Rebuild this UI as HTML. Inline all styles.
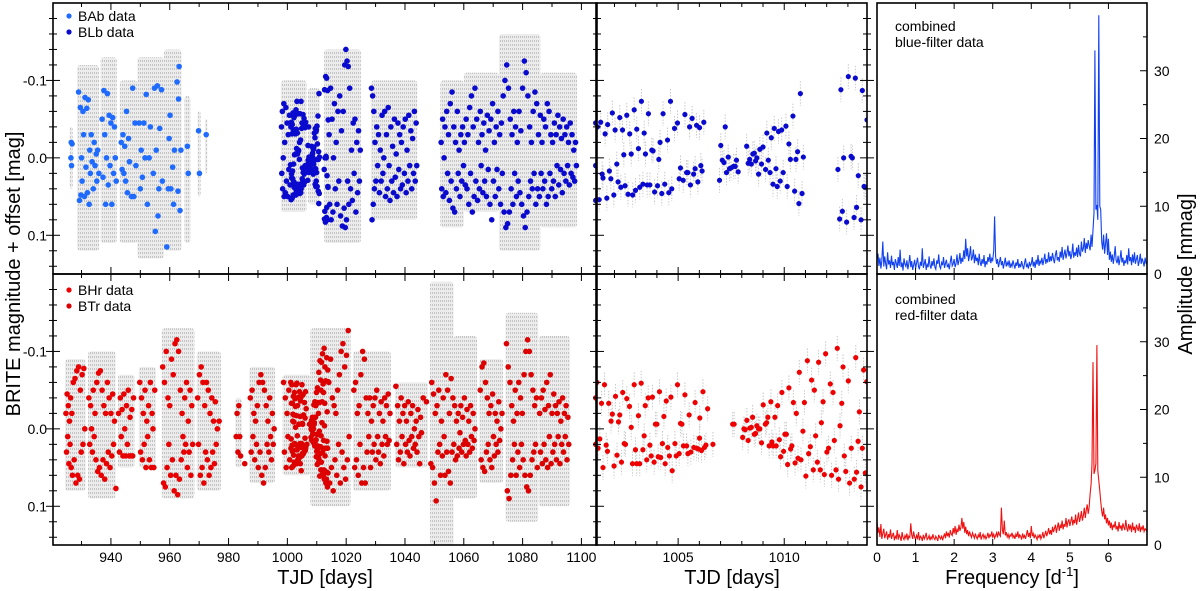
<!DOCTYPE html>
<html><head><meta charset="utf-8">
<style>
html,body{margin:0;padding:0;background:#fff;}
svg{display:block;font-family:"Liberation Sans",Arial,sans-serif;}
</style></head>
<body>
<svg id="fig" width="1200" height="591" viewBox="0 0 1200 591" xmlns="http://www.w3.org/2000/svg">
<defs>
<clipPath id="cL"><rect x="53" y="3" width="544" height="542"/></clipPath>
<clipPath id="cM"><rect x="596" y="3" width="271" height="542"/></clipPath>
<clipPath id="cR"><rect x="877" y="3" width="270" height="542"/></clipPath>
<pattern id="rawPat" width="2" height="4" patternUnits="userSpaceOnUse">
<rect x="0" y="0" width="2" height="4" fill="#ececec"/>
<rect x="0" y="0" width="1" height="2" fill="#c4c4c4"/>
</pattern>
</defs>
<g id="layer-gray"></g>
<g id="layer-pts"></g>
<g id="layer-spec"></g>
<g id="layer-axes"></g>
<g>
<circle cx="69" cy="16" r="2.6" fill="#1f6bff"/>
<text x="78" y="21" font-size="14">BAb data</text>
<circle cx="69" cy="32" r="2.6" fill="#0a0acf"/>
<text x="78" y="37" font-size="14">BLb data</text>
</g>
<g>
<circle cx="69" cy="290" r="2.6" fill="#f00000"/>
<text x="78" y="295" font-size="14">BHr data</text>
<circle cx="69" cy="306" r="2.6" fill="#dd0000"/>
<text x="78" y="311" font-size="14">BTr data</text>
</g>
<text x="895" y="31" font-size="14"><tspan x="895">combined</tspan><tspan x="895" dy="16">blue-filter data</tspan></text>
<text x="895" y="304" font-size="14"><tspan x="895">combined</tspan><tspan x="895" dy="16">red-filter data</tspan></text>
<text x="0" y="0" font-size="20" text-anchor="middle" transform="translate(20,274) rotate(-90)">BRITE magnitude + offset [mag]</text>
<text x="0" y="0" font-size="20" text-anchor="middle" transform="translate(1192,274) rotate(-90)">Amplitude [mmag]</text>
<text x="325" y="584" font-size="20" text-anchor="middle">TJD [days]</text>
<text x="732" y="584" font-size="20" text-anchor="middle">TJD [days]</text>
<text x="1012" y="584" font-size="20" text-anchor="middle">Frequency [d<tspan dy="-8" font-size="13">-1</tspan><tspan dy="8">]</tspan></text>
</svg>
<script>
// ---------- DATA ----------
const blueZoomPts = [[1001.04,0.009],[1001.20,-0.040],[1001.35,-0.046],[1001.56,-0.031],[1001.68,-0.043],[1001.90,-0.058],[1002.03,-0.036],[1002.25,-0.052],[1002.38,-0.036],[1002.58,-0.055],[1002.72,-0.031],[1002.93,-0.062],[1003.05,-0.037],[1003.27,-0.073],[1003.40,-0.032],[1003.60,-0.057],[1001.28,0.054],[1001.46,0.026],[1001.42,0.021],[1001.64,0.052],[1001.76,0.017],[1001.83,0.027],[1001.97,0.048],[1002.11,0.008],[1002.17,0.031],[1002.30,0.038],[1002.50,0.036],[1002.44,-0.004],[1002.64,0.047],[1002.79,-0.005],[1002.86,0.048],[1002.99,0.042],[1003.13,-0.012],[1003.19,0.038],[1003.34,0.034],[1003.46,-0.005],[1003.54,0.035],[1003.67,0.035],[1003.76,-0.010],[1003.82,-0.009],[1003.89,0.044],[1004.03,0.036],[1004.09,0.002],[1004.15,-0.020],[1004.23,0.046],[1004.29,-0.057],[1004.37,0.034],[1004.50,-0.023],[1004.56,0.045],[1004.64,-0.073],[1004.70,0.040],[1004.83,-0.038],[1004.97,-0.045],[1005.05,0.027],[1005.11,0.013],[1005.24,0.029],[1005.32,-0.056],[1005.40,0.019],[1005.46,0.019],[1005.54,-0.040],[1005.58,0.035],[1005.66,-0.051],[1005.73,0.021],[1005.80,0.014],[1005.87,-0.042],[1005.93,0.031],[1006.01,-0.039],[1006.07,0.010],[1006.13,0.017],[1006.21,-0.046],
[1006.95,0.029],[1007.01,-0.016],[1007.08,0.003],[1007.16,0.006],[1007.22,-0.040],[1007.28,0.019],[1007.36,-0.001],[1007.42,0.014],[1007.49,0.013],[1007.61,0.011],[1007.69,0.011],[1007.75,0.003],[1007.83,0.018],[1008.23,-0.015],[1008.30,0.007],[1008.37,0.002],[1008.45,0.008],[1008.52,-0.005],[1008.59,-0.006],[1008.65,0.004],[1008.71,0.000],[1008.79,0.021],[1008.85,-0.011],[1008.93,0.008],[1009.00,-0.014],[1009.12,0.015],[1009.18,-0.032],[1009.25,0.003],[1009.33,0.019],[1009.39,-0.026],[1009.47,0.034],[1009.53,-0.038],[1009.61,0.014],[1009.67,0.037],[1009.73,-0.034],[1009.81,0.030],[1009.88,-0.036],[1009.95,0.019],[1010.08,-0.041],[1010.14,0.037],[1010.22,-0.018],[1010.29,0.002],[1010.41,-0.054],[1010.49,0.043],[1010.55,0.002],[1010.63,-0.008],[1010.69,0.059],[1010.76,-0.083],[1010.84,0.046],[1010.90,-0.001],
[1012.53,0.015],[1012.61,0.079],[1012.67,-0.088],[1012.74,0.069],[1012.80,0.000],[1012.94,0.083],[1013.02,-0.105],[1013.15,-0.002],[1013.21,0.000],[1013.29,0.077],[1013.35,-0.103],[1013.41,0.064],[1013.49,0.023],[1013.62,0.080],[1013.68,-0.087],[1013.76,0.037],[1013.82,0.038],[1013.90,-0.049]];

const redZoomPts = [[1001.17,-0.060],[1001.23,0.025],[1001.31,0.013],[1001.39,-0.033],[1001.46,0.050],[1001.53,-0.057],[1001.61,0.021],[1001.67,0.029],[1001.73,-0.033],[1001.84,-0.010],[1001.90,-0.019],[1001.98,0.048],[1002.05,-0.042],[1002.12,0.034],[1002.19,-0.009],[1002.25,-0.018],[1002.33,0.043],[1002.39,-0.047],[1002.46,0.019],[1002.52,0.020],[1002.58,-0.039],[1002.71,-0.029],[1002.79,-0.002],[1002.85,0.045],[1002.93,-0.057],[1002.99,0.027],[1003.05,0.045],[1003.13,-0.017],[1003.19,0.045],[1003.26,-0.059],[1003.34,0.027],[1003.40,0.009],[1003.45,-0.030],[1003.52,0.040],[1003.59,-0.040],[1003.67,0.021],[1003.73,0.035],[1003.79,-0.041],[1003.87,0.043],[1003.93,-0.006],[1004.00,-0.006],[1004.06,0.036],[1004.12,-0.048],[1004.18,0.037],[1004.26,0.019],[1004.33,-0.016],[1004.39,0.045],[1004.44,-0.036],[1004.51,0.024],[1004.59,0.035],[1004.66,-0.041],[1004.72,0.054],[1004.85,0.019],[1004.91,0.035],[1004.97,-0.057],[1005.05,0.032],[1005.11,-0.007],[1005.18,-0.006],[1005.25,0.022],[1005.32,-0.044],[1005.40,0.022],[1005.46,0.032],[1005.52,-0.018],[1005.60,0.030],[1005.74,0.024],[1005.80,-0.034],[1005.87,0.025],[1005.96,0.026],[1006.01,0.012],[1006.02,-0.014],[1006.10,0.028],[1006.17,-0.048],[1006.24,0.024],[1006.31,0.021],[1006.39,-0.026],[1006.64,0.020],
[1007.57,-0.006],[1007.64,-0.006],[1008.04,0.011],[1008.10,0.000],[1008.16,0.001],[1008.24,-0.011],[1008.30,0.015],[1008.38,-0.001],[1008.45,-0.002],[1008.51,-0.015],[1008.59,0.007],[1008.65,0.006],[1008.71,-0.004],[1008.79,0.000],[1008.85,0.000],[1008.93,0.018],[1009.01,-0.031],[1009.11,-0.006],[1009.17,-0.008],[1009.23,-0.015],[1009.29,0.022],[1009.37,-0.035],[1009.42,0.017],[1009.48,0.022],[1009.56,-0.015],[1009.62,0.022],[1009.69,-0.030],[1009.77,0.014],[1009.83,0.036],[1009.89,-0.047],[1009.97,0.029],[1010.03,0.007],[1010.10,0.007],[1010.16,0.046],[1010.22,-0.053],[1010.30,0.026],[1010.36,0.022],[1010.43,-0.034],[1010.51,0.044],[1010.57,-0.020],[1010.65,0.038],[1010.71,-0.073],[1010.79,0.040],[1010.88,0.003],[1010.95,-0.034],[1011.02,0.061],[1011.09,-0.088],[1011.15,0.032],[1011.23,0.023],[1011.29,-0.063],[1011.37,0.053],[1011.42,-0.050],[1011.48,0.009],[1011.56,0.043],[1011.62,-0.086],[1011.70,0.053],[1011.75,-0.008],[1011.83,-0.035],[1011.89,0.059],[1011.95,-0.097],[1012.01,0.030],[1012.09,0.025],[1012.17,-0.058],[1012.23,0.060],[1012.30,-0.047],[1012.36,0.015],[1012.44,0.053],[1012.50,-0.104],[1012.56,0.065],[1012.63,-0.004],[1012.71,-0.033],[1012.77,-0.080],[1012.83,0.035],[1012.90,0.055],[1013.02,-0.062],[1013.08,0.070],[1013.16,0.025],[1013.30,0.065],[1013.37,-0.092],[1013.41,0.056],[1013.48,0.016],[1013.54,-0.022],[1013.62,0.075],[1013.68,0.025],[1013.74,-0.076],[1013.82,0.057],[1013.89,-0.061]];

const babPts = [[926.4,0.000],[926.5,-0.020],[926.6,0.010],[926.8,-0.018],[929.0,-0.085],[929.3,0.055],[929.6,-0.065],[929.8,0.048],[930.0,0.000],[930.2,0.030],[930.5,-0.060],[930.7,-0.030],[931.0,0.050],[931.2,-0.078],[931.5,0.012],[931.8,-0.064],[932.0,0.045],[932.3,-0.075],[932.6,0.060],[932.8,-0.010],[933.0,0.020],[933.3,-0.030],[933.6,0.005],[934.0,0.040],[934.3,-0.020],[934.6,0.010],[935.0,-0.005],[935.2,0.030],[935.5,-0.010],[935.9,0.020],[937.0,-0.050],[937.3,0.025],[937.6,-0.087],[937.9,-0.030],[938.2,0.060],[938.5,0.000],[938.8,-0.083],[939.1,0.035],[939.4,-0.055],[939.7,0.010],[940.0,-0.045],[940.3,0.060],[940.6,-0.052],[940.9,0.020],[941.2,-0.040],[941.5,0.000],[941.8,0.030],[943.5,-0.020],[943.8,0.015],[944.1,-0.030],[944.4,0.020],[944.7,-0.015],[945.0,0.030],[945.3,-0.060],[945.6,0.045],[946.0,-0.025],[946.3,0.005],[947.0,0.050],[947.4,-0.090],[947.8,0.050],[948.2,-0.045],[948.5,0.010],[949.6,-0.045],[950.0,0.040],[950.3,-0.010],[950.7,0.025],[951.2,-0.045],[951.6,0.000],[952.0,-0.082],[952.4,0.060],[953.0,0.000],[953.4,-0.040],[954.4,0.020],[954.8,-0.090],[955.1,0.095],[955.4,-0.010],[955.8,-0.093],[956.0,0.075],[956.3,0.040],[956.6,-0.038],[959.0,0.115],[957.2,-0.088],[957.5,0.030],[959.5,0.040],[959.8,-0.025],[960.1,-0.055],[960.4,0.040],[963.2,-0.118],[961.0,0.012],[961.3,0.060],[961.6,-0.010],[962.5,-0.098],[962.8,0.043],[963.0,-0.076],[963.5,0.068],[963.8,-0.010],[966.0,-0.015],[966.3,0.020],[969.8,-0.035],[970.1,0.020],[972.4,-0.030]];

const blbPts = [[998.0,-0.040],[998.1,0.020],[998.3,-0.060],[998.4,0.040],[998.6,0.000],[998.8,-0.070],[998.9,0.050],[999.1,-0.020],[999.3,0.045],[999.5,-0.065],[999.7,0.030],[999.9,-0.045],[1000.1,0.050],[1000.3,-0.030],[1000.5,0.015],[1000.7,-0.055],[1000.9,0.035],
[1014.2,-0.030],[1014.4,0.060],[1014.7,-0.090],[1014.9,0.080],[1015.2,-0.050],[1015.5,0.070],[1015.7,0.000],[1016.0,-0.070],[1016.3,0.040],[1016.6,-0.020],[1016.9,0.060],[1017.2,-0.060],[1017.5,0.030],[1017.8,-0.080],[1018.1,0.075],[1018.4,-0.035],[1018.7,0.088],[1019.0,-0.060],[1019.3,0.065],[1019.5,-0.120],[1019.7,0.090],[1019.9,-0.140],[1020.1,0.080],[1020.3,-0.125],[1020.5,0.030],[1020.7,-0.118],[1020.9,0.060],[1021.2,-0.090],[1021.5,0.040],[1021.8,-0.010],[1022.1,0.055],[1022.4,-0.045],[1022.7,0.020],[1023.0,-0.050],[1023.3,0.070],[1023.6,-0.020],[1023.9,0.045],[1024.2,-0.035],[1024.5,0.030],[1024.8,-0.010],
[1028.6,-0.090],[1028.8,0.080],[1029.0,-0.080],[1029.2,0.060],[1029.4,-0.060],[1029.6,0.040],[1029.8,-0.020],[1030.1,0.030],[1030.4,-0.040],[1030.7,0.010],[1031.0,-0.030],[1031.3,0.045],[1031.6,-0.010],[1031.9,0.030],[1032.2,-0.055],[1032.5,0.020],[1032.8,0.000],[1033.1,-0.060],[1033.4,0.050],[1033.7,-0.030],[1034.0,0.040],[1034.3,-0.065],[1034.6,0.010],[1034.9,0.055],[1035.2,-0.040],[1035.5,0.030],[1035.8,-0.015],[1036.1,0.045],[1036.4,-0.050],[1036.7,0.025],[1037.0,-0.005],[1037.3,0.050],[1037.6,-0.045],[1037.9,0.015],[1038.2,-0.030],[1038.5,0.040],[1038.8,-0.020],[1039.1,0.035],[1039.4,-0.040],[1039.8,0.020],[1040.1,-0.050],[1040.4,0.045],[1040.7,-0.010],[1041.0,0.030],[1041.3,-0.055],[1041.6,0.010],[1042.0,-0.035],[1042.3,0.040],[1042.6,-0.025],[1042.9,0.020],[1043.2,-0.060],[1043.5,0.030],[1043.8,-0.045],[1044.0,0.010],
[1052.3,-0.020],[1052.5,0.040],[1052.8,-0.050],[1053.0,0.050],[1053.3,0.000],[1053.6,-0.040],[1053.9,0.045],[1054.2,-0.060],[1054.5,0.020],[1054.8,-0.030],[1055.1,0.055],[1055.4,-0.070],[1055.7,0.030],[1056.0,-0.085],[1056.3,0.065],[1056.6,-0.040],[1056.9,0.070],[1057.2,-0.020],[1057.5,0.040],[1057.8,-0.060],[1058.1,0.020],[1058.4,-0.010],[1058.7,0.050],[1059.0,-0.030],[1059.3,0.030],[1059.6,-0.040],[1059.9,0.010],[1060.2,-0.020],[1060.5,0.035],[1060.8,-0.050],[1061.1,0.040],[1061.4,-0.030],[1061.7,0.060],[1062.0,-0.065],[1062.3,0.020],[1062.6,-0.080],[1062.9,0.070],[1063.2,-0.040],[1063.5,0.050],[1063.8,-0.090],[1064.1,0.030],[1064.4,-0.050],[1064.7,0.055],[1065.0,-0.020],[1065.3,0.040],[1065.6,-0.060],[1065.9,0.010],[1066.2,-0.030],[1066.5,0.045],[1066.8,-0.045],[1067.1,0.030],[1067.4,-0.010],[1067.7,0.050],[1068.0,-0.055],[1068.3,0.015],[1068.6,-0.035],[1068.9,0.060],[1069.2,-0.050],[1069.5,0.080],[1069.8,-0.070],[1070.1,0.030],[1070.4,-0.020],[1070.7,0.050],[1071.0,-0.040],[1071.3,0.015],[1071.6,-0.060],[1071.9,0.040],[1072.2,-0.030],[1072.5,0.060],[1072.8,-0.045],[1073.1,0.020],[1073.4,-0.080],[1073.7,0.070],[1074.0,-0.100],[1074.3,0.090],[1074.6,-0.120],[1074.9,0.085],[1075.2,-0.090],[1075.5,0.070],[1075.8,-0.050],[1076.1,0.040],[1076.4,-0.030],[1076.7,0.060],[1077.0,-0.060],[1077.3,0.020],[1077.6,-0.040],[1077.9,0.050],[1078.2,-0.020],[1078.5,0.030],[1078.8,-0.060],[1079.1,0.045],[1079.4,-0.035],[1079.7,0.060],[1080.0,-0.090],[1080.3,0.075],[1080.6,-0.125],[1080.9,0.090],[1081.2,-0.110],[1081.5,0.070],[1081.8,-0.080],[1082.1,0.050],[1082.4,-0.040],[1082.7,0.030],[1083.0,-0.020],[1083.3,0.040],[1083.6,-0.060],[1083.9,0.020],[1084.2,-0.085],[1084.5,0.060],[1084.8,-0.070],[1085.1,0.040],[1085.4,-0.030],[1085.7,0.050],[1086.0,-0.055],[1086.3,0.020],[1086.6,-0.020],[1086.9,0.040],[1087.2,-0.050],[1087.5,0.030],[1087.8,-0.040],[1088.1,0.060],[1088.4,-0.070],[1088.7,0.050],[1089.0,-0.060],[1089.3,0.020],[1089.6,-0.030],[1089.9,0.040],[1090.2,-0.020],[1090.5,0.030],[1090.8,-0.045],[1091.1,0.050],[1091.4,-0.030],[1091.7,0.010],[1092.0,-0.055],[1092.3,0.035],[1092.6,-0.040],[1092.9,0.015],[1093.2,-0.025],[1093.5,0.045],[1093.8,-0.050],[1094.1,0.020],[1094.4,-0.030],[1094.7,0.030],[1095.0,-0.040],[1095.3,0.010],[1095.6,-0.020],[1095.9,0.035],[1096.2,-0.045],[1096.5,0.020],[1096.8,-0.030],[1097.1,0.025],[1097.4,-0.010],[1097.7,0.030],[1098.0,-0.020],[1098.3,0.010],[1104.9,0.010],[1104.9,0.055],[1104.9,-0.045]];

const bhrPts = [[924.7,-0.02],[924.9,0.03],[925.1,-0.045],[925.3,0.01],[925.5,-0.03],[925.7,0.045],[925.9,-0.01],[926.1,0.02],[926.3,-0.04],[926.5,0.05],[926.7,-0.02],[926.9,0.06],[927.2,-0.06],[927.5,0.04],[927.8,-0.065],[928.1,0.07],[928.4,-0.075],[928.7,0.06],[929.0,-0.08],[929.3,0.065],[929.6,-0.05],[929.9,0.03],[930.2,-0.07],[930.5,0.02],[930.8,-0.078],[931.1,0.0],
[932.5,-0.04],[932.8,0.02],[933.1,-0.03],[933.4,0.0],[933.7,0.03],[934.0,-0.05],[934.3,0.01],[934.6,-0.02],[934.9,0.04],[935.2,-0.06],[935.5,0.055],[935.8,-0.072],[936.1,0.05],[936.4,-0.075],[936.7,0.06],[937.0,-0.05],[937.3,0.04],[937.6,-0.03],[937.9,0.065],[938.2,-0.02],[938.5,0.045],[938.8,-0.06],[939.1,0.03],[939.4,-0.04],[939.7,0.05],[940.0,-0.02],[940.3,0.035],[940.6,-0.045],[940.9,0.02],[941.2,-0.01],[941.7,0.077],
[942.6,-0.02],[942.9,0.03],[943.2,-0.04],[943.5,0.01],[943.8,-0.025],[944.1,0.035],[944.4,-0.045],[944.7,0.0],[945.0,0.035],[945.3,-0.03],[945.6,0.02],[945.9,-0.05],[946.2,0.035],[946.5,-0.015],[946.8,0.035],[947.1,-0.025],[947.4,0.035],[947.7,-0.04],
[949.8,-0.06],[950.1,0.03],[950.4,-0.04],[950.7,0.04],[951.0,-0.02],[951.3,0.02],[951.6,-0.05],[951.9,0.05],[952.2,-0.01],[952.5,0.01],[952.8,-0.03],[953.1,0.04],[953.4,-0.06],[953.7,0.05],[954.0,-0.02],[954.3,0.0],[954.6,0.05],[954.9,-0.05],
[957.6,-0.08],[957.9,0.07],[958.2,-0.06],[958.5,0.075],[958.8,-0.1],[959.1,0.05],[959.4,-0.04],[959.7,0.02],[960.0,-0.03],[960.3,0.06],[960.6,-0.09],[960.9,0.04],[961.2,-0.07],[961.5,0.08],[961.8,-0.11],[962.1,0.06],[962.4,-0.115],[962.7,0.085],[963.0,-0.1],[963.3,0.065],[963.6,-0.05],[963.9,0.04],[964.2,-0.02],[964.5,0.01],[964.8,0.03],[965.1,-0.04],[965.4,0.02],[965.7,-0.06],[966.0,0.05],[966.3,-0.01],[966.6,0.03],[966.9,-0.05],[967.2,0.06],[967.5,-0.03],[967.8,0.02],
[969.5,-0.04],[969.8,0.02],[970.1,-0.07],[970.4,0.06],[970.7,-0.08],[971.0,0.05],[971.3,-0.06],[971.6,0.07],[971.9,-0.03],[972.2,0.03],[972.5,-0.06],[972.8,0.04],[973.1,-0.05],[973.4,0.06],[973.7,-0.02],[974.0,0.05],[974.3,-0.04],[974.6,0.03],[974.9,-0.01],[975.2,0.045],[975.5,-0.035],[975.8,0.02],[976.2,0.0],[976.8,-0.01]];

const btrPts = [[982.6,0.01],[982.9,-0.02],[983.2,0.03],[983.5,-0.03],[983.8,0.01],[984.1,0.035],[985.5,0.045],
[987.4,-0.04],[987.7,0.03],[988.0,-0.05],[988.3,0.01],[988.6,-0.02],[988.9,0.04],[989.2,-0.01],[989.5,0.02],[989.8,-0.03],[990.1,0.05],[990.4,-0.06],[990.7,0.03],[991.0,-0.07],[991.3,0.06],[991.6,-0.06],[991.9,0.07],[992.2,-0.05],[992.5,0.05],[992.8,-0.03],[993.1,0.02],[993.4,-0.01],[993.7,0.03],[994.0,-0.04],[994.3,0.01],[994.6,0.04],[994.9,-0.02],[995.2,0.02],[995.5,0.0],
[998.7,-0.06],[999.0,0.03],[999.3,-0.04],[999.6,0.05],[999.9,-0.02],[1000.2,0.01],[1000.5,-0.05],[1000.8,0.04],
[1014.1,-0.06],[1014.4,0.07],[1014.7,-0.09],[1015.0,0.05],[1015.3,-0.04],[1015.6,0.08],[1015.9,-0.03],[1016.2,0.04],[1016.5,-0.02],[1016.8,0.06],[1017.1,-0.05],[1017.4,0.02],[1017.7,-0.07],[1018.0,0.07],[1018.3,-0.1],[1018.6,0.03],[1018.9,-0.11],[1019.2,0.05],[1019.5,-0.08],[1019.8,0.065],[1020.1,-0.095],[1020.4,0.04],[1020.7,-0.127],[1021.0,0.01],
[1022.6,-0.05],[1022.9,0.05],[1023.2,-0.06],[1023.5,0.04],[1023.8,-0.02],[1024.1,0.06],[1024.4,-0.03],[1024.7,0.02],[1025.0,-0.07],[1025.3,0.07],[1025.6,-0.1],[1025.9,0.05],[1026.2,-0.09],[1026.5,0.07],[1026.8,-0.04],[1027.1,0.03],[1027.4,-0.02],[1027.7,0.01],[1028.0,-0.04],[1028.3,0.05],[1028.6,-0.01],[1028.9,0.03],[1029.2,-0.03],[1029.5,0.02],[1029.8,-0.04],[1030.1,0.04],[1030.4,-0.05],[1030.7,0.01],[1031.0,0.03],[1031.3,-0.02],[1031.6,0.045],[1031.9,-0.035],[1032.2,0.02],[1032.5,-0.01],[1032.8,0.035],[1033.1,-0.04],[1033.4,0.01],[1033.7,-0.03],[1034.0,0.02],[1034.3,-0.045],[1034.6,0.015],[1034.9,-0.02],
[1036.9,-0.055],[1037.2,0.02],[1037.5,-0.03],[1037.8,0.04],[1038.1,-0.01],[1038.4,0.03],[1038.7,-0.04],[1039.0,0.01],[1039.3,-0.02],[1039.6,0.045],[1039.9,-0.03],[1040.2,0.02],[1040.5,-0.01],[1040.8,0.03],[1041.1,-0.035],[1041.4,0.015],[1041.7,0.035],[1042.0,-0.02],[1042.3,0.01],[1042.6,-0.03],[1042.9,0.025],[1043.2,0.0],[1043.5,0.02],[1043.8,-0.01],[1044.1,0.03],[1044.4,-0.025],[1044.7,0.01],[1045.0,0.045],[1045.3,-0.015],[1045.6,0.005],[1046.2,-0.04],[1047.3,-0.035],
[1048.8,0.045],[1049.1,-0.06],[1049.4,0.05],[1049.7,-0.045],[1050.0,0.07],[1050.3,-0.02],[1050.6,0.093],[1050.9,-0.03],[1051.2,0.03],[1051.5,-0.05],[1051.8,0.02],[1052.1,0.06],[1052.4,-0.01],[1052.7,0.035],[1053.0,-0.04],[1053.3,0.01],[1053.6,0.06],[1053.9,-0.07],[1054.2,0.03],[1054.5,-0.05],[1054.8,0.055],[1055.1,-0.02],[1055.4,0.07],[1055.7,-0.065],[1056.0,0.03],[1056.3,-0.04],[1056.6,0.02],[1056.9,-0.03],[1057.2,0.04],[1057.5,-0.01],[1057.8,0.035],[1058.1,-0.02],[1058.4,0.025],[1058.7,0.005],[1059.0,-0.03],[1059.3,0.03],[1059.6,-0.015],[1059.9,0.02],[1060.2,-0.04],[1060.5,0.015],[1060.8,0.035],[1061.1,-0.025],[1061.4,0.02],[1061.7,-0.01],[1062.0,0.03],[1062.3,-0.03],[1062.6,0.01],[1062.9,0.025],[1063.2,-0.02],[1063.5,0.015],[1063.8,0.0],
[1065.6,-0.05],[1065.9,0.04],[1066.2,-0.08],[1066.5,0.05],[1066.8,-0.085],[1067.1,0.055],[1067.4,-0.06],[1067.7,0.03],[1068.0,-0.04],[1068.3,0.02],[1068.6,-0.02],[1068.9,0.04],[1069.2,-0.03],[1069.5,0.05],[1069.8,-0.045],[1070.1,0.01],[1070.4,0.035],[1070.7,-0.02],[1071.0,0.02],[1071.3,-0.01],[1071.6,0.03],[1071.9,-0.035],[1072.2,0.015],[1072.6,0.0],[1073.0,-0.02],
[1074.5,-0.11],[1074.8,0.08],[1075.1,-0.08],[1075.4,0.09],[1075.7,-0.06],[1076.0,0.06],[1076.3,-0.03],[1076.6,0.04],[1076.9,-0.01],[1077.2,0.02],[1077.5,-0.05],[1077.8,0.06],[1078.1,-0.02],[1078.4,0.03],[1078.7,-0.06],[1079.0,0.05],[1079.3,-0.04],[1079.6,0.02],[1079.9,-0.02],[1080.2,0.04],[1080.5,-0.07],[1080.8,0.06],[1081.1,-0.1],[1081.4,0.075],[1081.7,-0.115],[1082.0,0.08],[1082.3,-0.1],[1082.6,0.06],[1082.9,-0.07],[1083.2,0.04],[1083.5,-0.05],[1083.8,0.03],[1084.1,-0.03],[1084.4,0.02],[1084.7,-0.04],[1085.0,0.05],
[1085.8,-0.02],[1086.1,0.03],[1086.4,-0.04],[1086.7,0.045],[1087.0,-0.05],[1087.3,0.02],[1087.6,-0.025],[1087.9,0.04],[1088.2,-0.06],[1088.5,0.05],[1088.8,-0.03],[1089.1,0.01],[1089.4,-0.07],[1089.7,0.045],[1090.0,-0.02],[1090.3,0.03],[1090.6,-0.045],[1090.9,0.02],[1091.2,-0.03],[1091.5,0.04],[1091.8,-0.02],[1092.1,0.01],[1092.4,-0.035],[1092.7,0.045],[1093.0,-0.01],[1093.3,0.02],[1093.6,-0.04],[1093.9,0.03],[1094.2,-0.02],[1094.5,0.01],[1094.8,-0.03],[1095.1,0.04],[1095.4,-0.015],[1095.7,0.02],[1104.9,-0.04],[1104.9,0.02]];

// raw-data envelopes: [tStart, tEnd, magLow, magHigh]
const blueRawEnv = [[926,927,-0.04,0.04],[928.5,936,-0.12,0.12],[936.5,942,-0.13,0.11],[943,949,-0.10,0.11],[949,958,-0.13,0.13],[958,964,-0.14,0.12],[965,967,-0.08,0.11],[969.5,970.5,-0.06,0.05],[972,972.8,-0.05,0.02],[997.8,1006.5,-0.10,0.07],[1007,1011,-0.09,0.06],[1012.5,1025,-0.14,0.11],[1028.4,1044.2,-0.10,0.08],[1052,1060,-0.10,0.09],[1060,1072,-0.11,0.07],[1072,1086,-0.16,0.12],[1086,1098.5,-0.11,0.09]];
const redRawEnv = [[924.4,931.4,-0.09,0.08],[932.2,941.6,-0.10,0.09],[942.4,948,-0.07,0.05],[949.5,955.3,-0.08,0.05],[957.3,968.4,-0.13,0.09],[969.2,977.4,-0.10,0.08],[982.3,984.5,-0.04,0.05],[987.1,995.8,-0.08,0.07],[998.4,1007.8,-0.07,0.06],[1007.8,1021.5,-0.13,0.10],[1022.3,1035.2,-0.10,0.08],[1036.6,1047.8,-0.06,0.05],[1048.5,1056.5,-0.19,0.16],[1056.5,1064.5,-0.12,0.09],[1065.3,1073.4,-0.09,0.07],[1074.2,1085.3,-0.15,0.12],[1085.5,1096.1,-0.12,0.10]];

// amplitude spectra, frequency grid 0..7 d^-1, step 0.025
const freqStart = 0, freqStep = 0.025;
const blueAmp = [2.1,3.0,1.2,2.4,0.8,1.9,4.8,1.1,2.6,1.5,0.7,3.2,1.4,2.0,0.9,2.7,1.3,1.8,0.6,2.2,
1.6,0.9,2.5,1.2,3.6,1.0,1.7,0.5,2.3,1.4,1.1,2.0,0.7,1.5,2.8,1.0,1.9,0.6,1.3,2.1,
0.8,1.6,2.4,1.1,0.7,1.8,1.2,3.8,0.9,1.5,2.2,0.6,1.4,1.0,2.6,1.3,0.8,1.9,1.2,2.3,
1.0,0.7,2.0,1.5,2.9,1.1,0.8,1.7,1.3,2.5,0.9,1.6,2.1,1.0,1.4,0.7,1.8,2.7,1.2,1.5,
2.2,1.0,1.6,2.9,1.3,2.0,3.1,1.5,2.4,1.8,3.5,2.2,5.2,2.6,3.8,1.9,2.8,4.1,2.0,2.5,
3.6,1.6,2.9,1.9,2.4,1.3,3.0,1.7,1.2,2.2,1.5,2.8,1.0,1.9,1.4,2.5,1.8,3.0,1.6,2.3,
2.0,3.4,8.5,2.6,1.5,2.2,1.0,1.8,2.5,1.3,1.9,0.8,1.6,2.4,1.1,1.7,1.3,2.0,0.9,1.5,
1.1,2.0,1.4,0.8,1.7,1.2,2.2,0.9,1.5,1.0,1.9,1.3,0.7,1.6,2.3,1.0,1.4,0.8,1.8,1.2,
1.5,2.5,1.1,1.8,0.9,2.1,1.4,2.8,1.2,1.9,1.6,2.4,1.3,2.0,3.0,1.5,2.2,1.7,3.2,1.8,
2.6,1.9,3.1,2.2,1.6,2.8,3.5,2.0,2.5,1.8,3.3,2.4,4.0,2.1,2.9,3.6,2.3,3.1,4.2,2.6,
3.4,2.2,2.9,4.5,2.4,3.2,2.7,3.9,2.5,4.3,3.0,2.6,4.8,3.3,3.8,5.3,3.1,4.6,3.7,5.0,
4.2,3.5,5.8,4.0,6.5,9.0,33.0,9.5,10.2,8.0,38.2,10.0,9.5,4.8,3.6,5.8,3.0,4.4,6.0,2.8,
5.2,2.1,3.3,1.8,2.9,1.5,2.6,4.1,2.0,1.6,2.7,1.3,2.2,3.5,1.7,2.4,1.2,2.0,1.6,2.8,
1.4,3.8,1.9,2.5,1.3,2.9,1.7,3.2,1.5,2.2,2.8,1.2,1.9,3.0,1.5,2.3,1.8,1.1,2.4,1.6,1.4];
const redAmp = [3.4,1.8,2.6,1.2,3.1,0.9,1.7,2.4,1.0,1.5,2.0,0.8,1.6,1.1,2.3,0.9,1.4,1.8,0.7,1.3,
1.0,2.2,0.8,1.5,1.2,0.6,1.9,1.1,0.8,1.4,1.0,1.7,0.7,1.3,1.1,3.2,1.5,0.9,2.0,1.2,
0.8,1.4,1.0,1.9,0.7,1.3,1.1,0.6,1.5,0.9,1.2,1.8,0.8,1.0,1.4,0.7,1.2,0.9,1.6,1.0,
0.8,1.3,1.0,0.6,1.5,1.1,0.9,1.4,0.7,1.2,1.7,1.0,2.0,1.3,1.8,1.1,2.2,1.6,1.4,2.5,
1.7,2.8,1.5,2.3,1.9,3.0,2.1,2.6,4.0,2.4,3.4,1.8,2.7,1.6,2.2,1.3,2.0,1.5,1.1,1.8,
1.4,1.0,1.7,1.2,0.9,1.5,1.1,1.9,0.8,1.3,1.6,1.0,1.4,0.9,1.2,1.8,1.0,1.5,1.3,2.0,
1.2,1.6,1.0,1.4,1.8,1.1,2.0,1.5,1.3,5.5,2.2,1.6,3.6,1.4,1.9,1.2,1.6,1.0,1.5,1.3,
1.8,1.1,1.4,0.9,1.6,1.2,2.0,1.0,1.5,1.3,0.8,1.7,1.1,1.4,0.9,1.6,2.2,1.2,1.8,1.0,
2.8,1.3,1.7,1.0,1.5,1.2,0.8,1.4,1.1,1.6,0.9,1.3,1.9,1.0,1.5,2.1,1.3,1.8,2.5,1.6,
2.2,1.5,2.7,1.9,2.4,3.0,1.8,2.6,3.3,2.1,2.9,2.5,3.6,2.3,3.1,2.7,4.0,2.6,3.4,3.8,
2.8,3.5,4.2,2.9,3.7,3.2,4.5,3.0,3.9,4.8,3.4,4.1,5.0,3.6,4.4,5.5,4.0,5.2,6.0,4.6,
5.5,7.5,9.0,12.0,27.0,10.5,11.0,12.0,29.5,11.0,9.5,8.0,6.5,5.0,4.2,5.5,3.8,4.5,3.2,4.0,
2.9,3.6,2.5,3.3,2.2,3.0,2.6,3.5,2.3,2.8,2.0,3.4,2.4,2.9,2.1,3.2,2.6,2.2,3.7,2.5,
2.0,3.1,2.4,2.8,1.9,3.3,2.2,2.7,1.8,3.0,2.5,2.1,3.2,1.9,2.6,2.3,2.9,2.0,2.4,2.2,2.0];

const longTicks = [940,960,980,1000,1020,1040,1060,1080,1100];
const zoomTicks = [1005,1010];
const freqTicks = [0,1,2,3,4,5,6];
const magTicks = [-0.1,0.0,0.1];
const ampTicks = [0,10,20,30];

// ---------- GEOMETRY ----------
const NS = 'http://www.w3.org/2000/svg';
const PL = {x0:53, x1:597, t0:920.3, t1:1105.3};
const PM = {x0:596, x1:867, t0:1001.13, t1:1013.9};
const PR = {x0:877, x1:1147, f0:0, f1:7};
const ROWS = [{y0:3, y1:274}, {y0:274, y1:545}];
const MAG0 = -0.2, MAG1 = 0.15, AMPMAX = 40;
function sx(p, t){ return p.x0 + (t - p.t0) / (p.t1 - p.t0) * (p.x1 - p.x0); }
function fx(f){ return PR.x0 + (f - PR.f0) / (PR.f1 - PR.f0) * (PR.x1 - PR.x0); }
function sy(row, m){ return row.y0 + (m - MAG0) / (MAG1 - MAG0) * (row.y1 - row.y0); }
function ay(row, a){ return row.y1 - a / AMPMAX * (row.y1 - row.y0); }
function fmt(v){ return (Math.abs(v) < 1e-9 ? '0.0' : v.toFixed(1)); }

function mk(tag, attrs, parent){
  const e = document.createElementNS(NS, tag);
  for (const k in attrs) e.setAttribute(k, attrs[k]);
  parent.appendChild(e);
  return e;
}
const gGray = document.getElementById('layer-gray');
const gPts = document.getElementById('layer-pts');
const gSpec = document.getElementById('layer-spec');
const gAx = document.getElementById('layer-axes');

function drawEnv(env, row, name){
  const g = mk('g', {'clip-path':'url(#cL)'}, gGray);
  
  
  env.forEach(function(b){
    const r = mk('rect', {x:sx(PL,b[0]), y:sy(row,b[2]), width:Math.max(1,sx(PL,b[1])-sx(PL,b[0])), height:sy(row,b[3])-sy(row,b[2]), fill:'url(#rawPat)', rx:3}, g);
    
    
  });
}
drawEnv(blueRawEnv, ROWS[0], 'blue-raw-data');
drawEnv(redRawEnv, ROWS[1], 'red-raw-data');

function drawPts(pts, row, panel, clip, color, rad, name, errs){
  const g = mk('g', {'clip-path':'url(#' + clip + ')'}, gPts);
  
  
  pts.forEach(function(p){
    const x = sx(panel, p[0]), y = sy(row, p[1]);
    if (errs) {
      const l = mk('line', {x1:x, x2:x, y1:sy(row,p[1]-0.016), y2:sy(row,p[1]+0.016), stroke:'#c8c8c8', 'stroke-width':1, 'stroke-dasharray':'1.5 1.5', 'clip-path':'url(#' + clip + ')'}, gGray);
      
      
    }
    const c = mk('circle', {cx:x, cy:y, r:rad, fill:color}, g);
    
    
  });
}
drawPts(babPts, ROWS[0], PL, 'cL', '#1f6bff', 2.8, 'bab-points', false);
drawPts(blbPts, ROWS[0], PL, 'cL', '#0a0acf', 2.8, 'blb-points', false);
drawPts(blueZoomPts, ROWS[0], PL, 'cL', '#0a0acf', 2.8, 'blb-points-zoom-range', false);
drawPts(bhrPts, ROWS[1], PL, 'cL', '#e80000', 2.8, 'bhr-points', false);
drawPts(btrPts, ROWS[1], PL, 'cL', '#dd0000', 2.8, 'btr-points', false);
drawPts(redZoomPts, ROWS[1], PL, 'cL', '#dd0000', 2.8, 'btr-points-zoom-range', false);
drawPts(blueZoomPts, ROWS[0], PM, 'cM', '#0a0acf', 2.6, 'blb-zoom-points', true);
drawPts(redZoomPts, ROWS[1], PM, 'cM', '#ee0000', 2.6, 'red-zoom-points', true);

function drawSpec(amp, row, color, name){
  let d = '';
  amp.forEach(function(a, i){
    const f = freqStart + i * freqStep;
    d += (i ? 'L' : 'M') + fx(f).toFixed(1) + ' ' + ay(row, a).toFixed(1);
  });
  const p = mk('path', {d:d, fill:'none', stroke:color, 'stroke-width':1.1, 'clip-path':'url(#cR)'}, gSpec);
  
  
}
drawSpec(blueAmp, ROWS[0], '#1040f0', 'blue-amplitude-spectrum');
drawSpec(redAmp, ROWS[1], '#ee1111', 'red-amplitude-spectrum');

// ---------- AXES ----------
function line(x1,y1,x2,y2,w,name){
  const l = mk('line', {x1:x1,y1:y1,x2:x2,y2:y2,stroke:'#000','stroke-width':w}, gAx);
  
  
}
function text(x,y,s,anchor,name){
  const t = mk('text', {x:x,y:y,'font-size':14,'text-anchor':anchor}, gAx);
  t.textContent = s;
  
  
}
[[53,597],[596,867],[877,1147]].forEach(function(xs){
  ROWS.forEach(function(r){
    const f = mk('rect', {x:xs[0], y:r.y0, width:xs[1]-xs[0], height:r.y1-r.y0, fill:'none', stroke:'#000', 'stroke-width':1.6}, gAx);
    
    
  });
});
ROWS.forEach(function(r){
  for (let k = -10; k <= 7; k++) {
    const m = k * 0.02, y = sy(r, m);
    if (y <= r.y0 + 1 || y >= r.y1 - 1) continue;
    const major = (k % 5 === 0);
    const len = major ? 7 : 4;
    [PL.x0, PL.x1, PM.x1].forEach(function(x){
      line(x, y, x + len, y, 1, 'y-tick');
      line(x, y, x - len, y, 1, 'y-tick');
    });
  }
  magTicks.forEach(function(m){ text(47, sy(r, m) + 5, fmt(m), 'end', 'y-tick-label'); });
});
for (let t = 930; t <= 1100; t += 10) {
  const x = sx(PL, t), major = (t % 20 === 0);
  const len = major ? 7 : 4;
  line(x, 545, x, 545 - len, 1, 'x-tick');
  line(x, 3, x, 3 + len, 1, 'x-tick');
  line(x, 274 - len, x, 274 + len, 1, 'x-tick');
}
longTicks.forEach(function(t){ text(sx(PL, t), 562, String(t), 'middle', 'x-tick-label'); });
for (let t = 1002; t <= 1013; t += 1) {
  const x = sx(PM, t), major = (t % 5 === 0);
  const len = major ? 7 : 4;
  line(x, 545, x, 545 - len, 1, 'x-tick');
  line(x, 3, x, 3 + len, 1, 'x-tick');
  line(x, 274 - len, x, 274 + len, 1, 'x-tick');
}
zoomTicks.forEach(function(t){ text(sx(PM, t), 562, String(t), 'middle', 'x-tick-label'); });
for (let f = 1; f <= 6; f++) {
  const x = fx(f);
  line(x, 545, x, 539, 1, 'freq-tick');
  line(x, 3, x, 9, 1, 'freq-tick');
  line(x, 268, x, 280, 1, 'freq-tick');
}
freqTicks.forEach(function(f){ text(fx(f), 562, String(f), 'middle', 'freq-tick-label'); });
ROWS.forEach(function(r){
  for (let a = 5; a < AMPMAX; a += 5) {
    const y = ay(r, a), len = (a % 10 === 0) ? 7 : 4;
    line(PR.x1, y, PR.x1 - len, y, 1, 'amp-tick');
  }
  ampTicks.forEach(function(a){ text(1154, ay(r, a) + 5, String(a), 'start', 'amp-tick-label'); });
});
</script>
</body></html>
